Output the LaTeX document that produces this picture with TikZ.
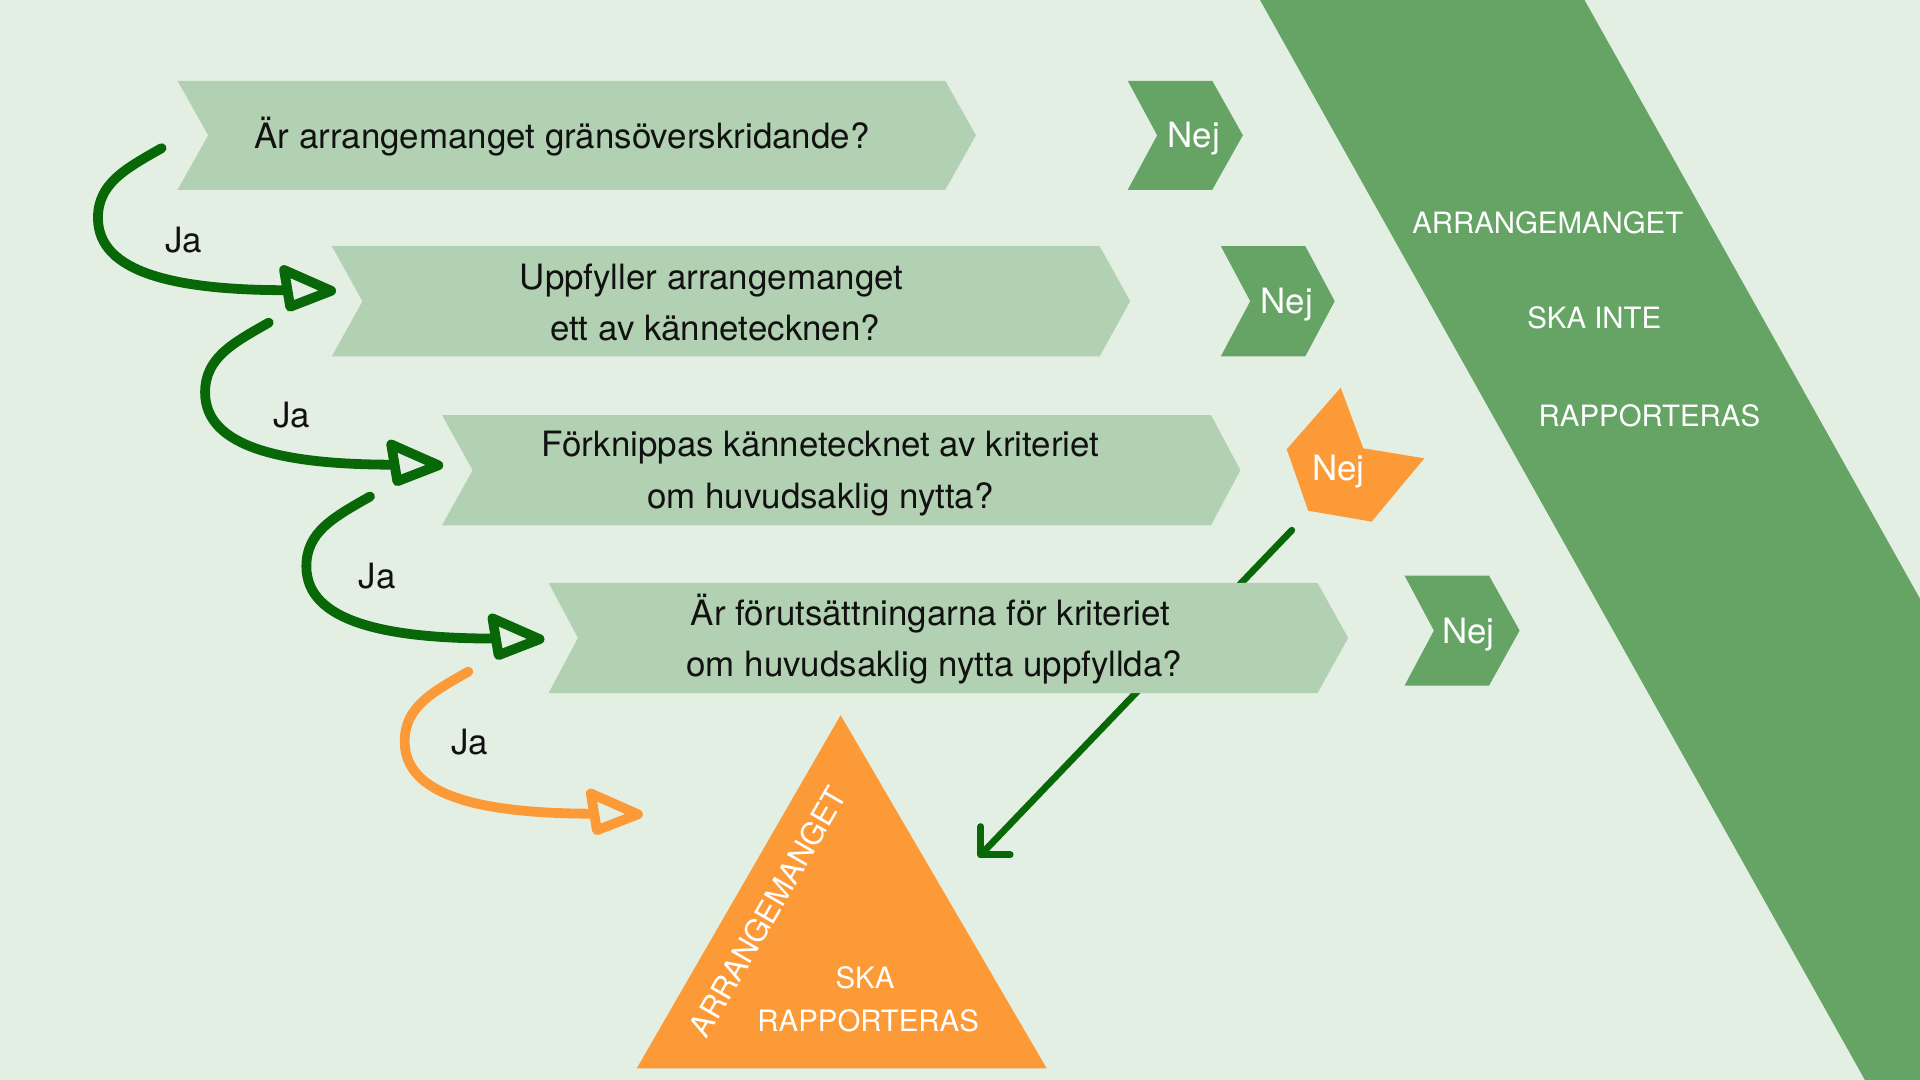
\documentclass[tikz,border=0pt]{standalone}
\usepackage{fontspec}
\setmainfont{TeX Gyre Heros}
\definecolor{bgc}{RGB}{228,239,228}
\definecolor{lightg}{RGB}{178,209,178}
\definecolor{midg}{RGB}{102,164,102}
\definecolor{orng}{RGB}{253,154,56}
\definecolor{darkg}{RGB}{8,104,8}
\definecolor{txt}{RGB}{17,17,17}
\tikzset{
  qbox/.style={fill=lightg},
  nejbox/.style={fill=midg},
  qtext/.style={anchor=base, text=txt, inner sep=0pt, font=\fontsize{28.5}{34}\selectfont},
  nejtext/.style={anchor=base, text=white, inner sep=0pt, font=\fontsize{28.5}{34}\selectfont},
  captext/.style={anchor=base, text=white, inner sep=0pt, font=\fontsize{24}{29}\selectfont},
  jaline/.style={line width=8pt, line cap=round},
  jahead/.style={line width=8pt, line join=round},
  diag/.style={draw=darkg, line width=5.5pt, line cap=round, line join=round},
}
\newcommand\jaarrow[2]{%
  \draw[jaline,draw=#2] (#1) .. controls +(-30,17) and +(0,-28) .. ++(-52,57)
     .. controls +(0,45) and +(-90,0) .. ++(154,59) coordinate (#1e);
  \draw[jahead,draw=#2] (#1e) +(-2,-16.5) -- +(36.5,0.5) -- +(3,13.5) -- cycle;
}
\begin{document}
\begin{tikzpicture}[x=1pt,y=-1pt]
  \useasboundingbox (0,0) rectangle (1568,882);
  \fill[bgc] (0,0) rectangle (1568,882);
  % big band
  \fill[midg] (1029,0) -- (1294,0) -- (1568,489) -- (1568,882) -- (1523,882) -- cycle;
  % triangle
  \fill[orng] (686.5,584) -- (854.8,872.5) -- (520,872.5) -- cycle;
  % diagonal arrow shaft (behind box 4)
  \coordinate (dstart) at (1055,433);
  \coordinate (dend) at (801,698);
  \draw[diag] (dstart) -- (dend);
  \draw[diag] (dend) ++(0,-23) -- (dend) -- ++(24,0);
  % question chevrons
  \fill[qbox] (145,66) -- (772,66) -- (797,110.5) -- (772,155) -- (145,155) -- (170,110.5) -- cycle;
  \fill[qbox] (271,201) -- (898,201) -- (923,246) -- (898,291) -- (271,291) -- (296,246) -- cycle;
  \fill[qbox] (361,339) -- (989,339) -- (1013,384) -- (989,429) -- (361,429) -- (386,384) -- cycle;
  \fill[qbox] (448,476) -- (1076,476) -- (1101,521) -- (1076,566) -- (448,566) -- (472,521) -- cycle;
  % Nej chevrons
  \fill[nejbox] (921,66) -- (990,66) -- (1015,110.5) -- (990,155) -- (921,155) -- (945,110.5) -- cycle;
  \fill[nejbox] (997,201) -- (1066,201) -- (1090,246) -- (1066,291) -- (997,291) -- (1021,246) -- cycle;
  \fill[nejbox] (1147,470) -- (1216,470) -- (1241,515) -- (1216,560) -- (1147,560) -- (1171,515) -- cycle;
  % orange pentagon
  \fill[orng] (1094.9,316.6) -- (1113.3,366.1) -- (1163.2,374.3) -- (1120.2,426) -- (1068.4,417.1) -- (1050.8,366.9) -- cycle;
  % texts
  \node[qtext] (q1) at (459,121.5) {Är arrangemanget gränsöverskridande?};
  \node[qtext] (q2a) at (581,236.2) {Uppfyller arrangemanget};
  \node[qtext] (q2b) at (584,278.2) {ett av kännetecknen?};
  \node[qtext] (q3a) at (670,373.2) {Förknippas kännetecknet av kriteriet};
  \node[qtext] (q3b) at (670,415.2) {om huvudsaklig nytta?};
  \node[qtext] (q4a) at (760,511.2) {Är förutsättningarna för kriteriet};
  \node[qtext] (q4b) at (763,552.2) {om huvudsaklig nytta uppfyllda?};
  \node[nejtext] (n1) at (975,120.2) {Nej};
  \node[nejtext] (n2) at (1051,256.2) {Nej};
  \node[nejtext] (n3) at (1093,392.7) {Nej};
  \node[nejtext] (n4) at (1199,525.2) {Nej};
  \node[captext] (b1) at (1264,190.6) {ARRANGEMANGET};
  \node[captext] (b2) at (1302,268.6) {SKA INTE};
  \node[captext] (b3) at (1347,348.6) {RAPPORTERAS};
  \node[captext, anchor=center, rotate=60, font=\fontsize{25}{30}\selectfont] (t1) at (627,744.5) {ARRANGEMANGET};
  \node[captext] (t2) at (706.4,807.3) {SKA};
  \node[captext] (t3) at (709,842) {RAPPORTERAS};
  \node[qtext] (ja1) at (150,206.2) {Ja};
  \node[qtext] (ja2) at (238,349.2) {Ja};
  \node[qtext] (ja3) at (308,480.2) {Ja};
  \node[qtext] (ja4) at (383.5,616.2) {Ja};
  % curved Ja arrows
  \coordinate (s1) at (132,121);
  \coordinate (s2) at (219.5,263.5);
  \coordinate (s3) at (302.2,405.5);
  \coordinate (s4) at (382.5,548.5);
  \jaarrow{s1}{darkg}
  \jaarrow{s2}{darkg}
  \jaarrow{s3}{darkg}
  \jaarrow{s4}{orng}
\end{tikzpicture}
\end{document}
